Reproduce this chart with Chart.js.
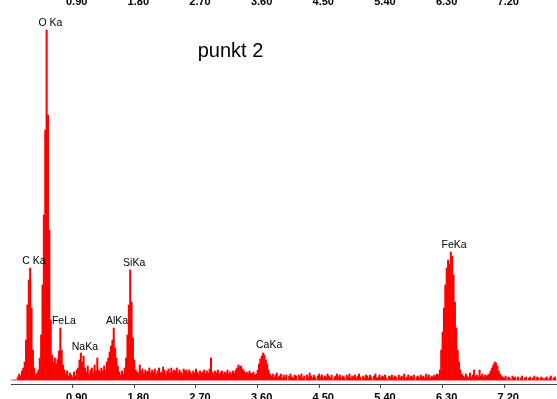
<!DOCTYPE html>
<html>
<head>
<meta charset="utf-8">
<script src="https://cdn.jsdelivr.net/npm/chart.js@4/dist/chart.umd.min.js"></script>
<style>
  html, body { margin: 0; padding: 0; background: #fff; overflow: hidden; width: 557px; height: 399px; }
  #wrap { position: absolute; left: 0; top: -6px; width: 557px; height: 410px; }
</style>
</head>
<body>
<div id="wrap"><canvas id="c" width="557" height="410"></canvas></div>
<script>
// ---- data (EDS spectrum, 0.02 keV per channel, starting at 0.00 keV) ----
const channelWidthKeV = 0.02;
const counts = [
  0,0,0,0,0,3,6,4,9,12,            // 0.00-0.18
  18,40,75,100,112,72,30,12,5,7,   // 0.20-0.38  C Ka
  10,22,45,95,165,250,350,265,150,60, // 0.40-0.58 O Ka
  25,18,22,16,21,29,52,30,15,10,   // 0.60-0.78  Fe La
  6,9,4,7,5,3,8,4,10,12,           // 0.80-0.98
  20,27,18,24,12,8,14,6,10,12,     // 1.00-1.18  Na Ka
  7,15,9,22,10,8,12,9,14,10,       // 1.20-1.38
  18,22,28,34,40,52,32,22,14,8,    // 1.40-1.58  Al Ka
  5,9,6,12,22,45,75,110,78,42,     // 1.60-1.78  Si Ka
  20,10,8,7,15,9,11,6,10,8,        // 1.80-1.98
  9,12,7,10,8,11,6,9,12,7,         // 2.00-2.18
  8,13,10,6,9,11,7,12,8,10,        // 2.20-2.38
  9,12,7,10,8,6,11,9,10,7,         // 2.40-2.58
  10,8,6,9,7,11,8,6,9,7,           // 2.60-2.78
  8,10,6,9,7,11,22,8,6,9,          // 2.80-2.98
  7,10,6,8,9,6,8,7,10,6,           // 3.00-3.18
  8,6,9,7,10,12,15,13,14,11,       // 3.20-3.38
  9,7,8,6,9,7,6,8,5,6,             // 3.40-3.58
  10,16,21,24,27,25,20,16,10,6,    // 3.60-3.78  Ca Ka
  4,6,3,5,7,3,4,6,2,5,             // 3.80-3.98
  3,5,0,4,6,3,2,5,4,0,             // 4.00-4.18
  5,3,6,2,4,0,5,3,7,4,             // 4.20-4.38
  2,5,3,0,4,6,3,5,2,4,             // 4.40-4.58
  3,6,4,2,5,0,3,4,6,3,             // 4.60-4.78
  5,2,4,3,0,5,3,6,2,4,             // 4.80-4.98
  3,5,2,4,6,3,0,4,2,5,             // 5.00-5.18
  4,2,5,3,0,4,6,2,3,5,             // 5.20-5.38
  2,4,3,5,2,0,4,3,5,2,             // 5.40-5.58
  4,3,0,5,2,4,3,6,2,3,             // 5.60-5.78
  5,2,4,3,5,0,3,4,2,5,             // 5.80-5.98
  3,4,2,6,3,5,2,4,3,5,             // 6.00-6.18
  4,6,5,10,30,48,72,95,112,120,    // 6.20-6.38  Fe Ka
  116,128,124,105,78,52,30,18,10,6, // 6.40-6.58
  4,3,6,4,2,7,3,5,10,4,            // 6.60-6.78
  5,3,10,4,6,3,5,4,5,6,            // 6.80-6.98
  9,12,15,18,17,14,9,6,4,3,        // 7.00-7.18  Fe Kb
  2,4,0,3,2,0,4,2,3,0,             // 7.20-7.38
  3,0,2,4,0,2,3,0,2,3,             // 7.40-7.58
  0,2,4,0,3,2,0,3,2,0,             // 7.60-7.78
  2,3,0,2,4,0,2,3,0                // 7.80-7.96
];
const tickValues = [0.9, 1.8, 2.7, 3.6, 4.5, 5.4, 6.3, 7.2];
const tickLabels = ["0.90", "1.80", "2.70", "3.60", "4.50", "5.40", "6.30", "7.20"];
const peakNames   = ["C Ka", "O Ka", "FeLa", "NaKa", "AlKa", "SiKa", "CaKa", "FeKa"];
const peakEnergy  = [0.276, 0.516, 0.713, 1.02, 1.49, 1.74, 3.71, 6.41];
const peakHeight  = [112, 350, 52, 26, 52, 110, 28, 128];
const titleText = "punkt 2";

const energies = counts.map((_, i) => +(i * channelWidthKeV).toFixed(2));
const points = counts.map((v, i) => ({ x: energies[i], y: v }));

const annotate = {
  id: 'annotate',
  afterDatasetsDraw(chart) {
    const ctx = chart.ctx, xs = chart.scales.x, ys = chart.scales.y;
    ctx.save();
    ctx.fillStyle = '#000';
    ctx.font = '10.5px "Liberation Sans", Arial, sans-serif';
    ctx.textAlign = 'center';
    ctx.textBaseline = 'middle';
    peakNames.forEach((n, i) => {
      ctx.fillText(n, xs.getPixelForValue(peakEnergy[i]) + 4, ys.getPixelForValue(peakHeight[i]) - 6.5);
    });
    ctx.font = '20px "Liberation Sans", Arial, sans-serif';
    ctx.textBaseline = 'alphabetic';
    ctx.fillText(titleText, chart.chartArea.left + 219.5, chart.chartArea.top + 46.5);
    ctx.restore();
  }
};

const tickFont = { family: '"Liberation Sans", Arial, sans-serif', size: 11, weight: 'bold' };
function setTicks(s) { s.ticks = tickValues.map(v => ({ value: v })); }

new Chart(document.getElementById('c'), {
  type: 'bar',
  data: {
    datasets: [{
      data: points,
      backgroundColor: 'rgb(255,0,0)',
      borderWidth: 0,
      barPercentage: 1.0,
      categoryPercentage: 1.0
    }]
  },
  options: {
    responsive: false,
    animation: false,
    devicePixelRatio: 1,
    layout: { padding: { left: 11, right: 0, top: 0, bottom: 0 } },
    plugins: { legend: { display: false }, tooltip: { enabled: false }, title: { display: false } },
    scales: {
      x: {
        type: 'linear', position: 'bottom', min: 0, max: 7.97, offset: false,
        afterBuildTicks: setTicks,
        afterFit: (s) => { s.height = 20; },
        grid: { display: true, offset: false, drawOnChartArea: false, drawTicks: true, tickLength: 4, color: '#444', lineWidth: 1 },
        border: { display: true, color: '#444', width: 1 },
        ticks: { autoSkip: false, maxRotation: 0, padding: 3, labelOffset: 4, color: '#000', font: tickFont,
                 callback: (v, i) => tickLabels[i] }
      },
      x2: {
        type: 'linear', position: 'top', min: 0, max: 7.97, offset: false,
        afterBuildTicks: setTicks,
        afterFit: (s) => { s.height = 16; },
        grid: { display: false, offset: false, drawTicks: false, tickLength: 0 },
        border: { display: false },
        ticks: { autoSkip: false, maxRotation: 0, padding: 1, labelOffset: 4, color: '#000', font: tickFont,
                 callback: (v, i) => tickLabels[i] }
      },
      y: { display: false, min: -4, max: 370 }
    }
  },
  plugins: [annotate]
});
</script>
</body>
</html>
